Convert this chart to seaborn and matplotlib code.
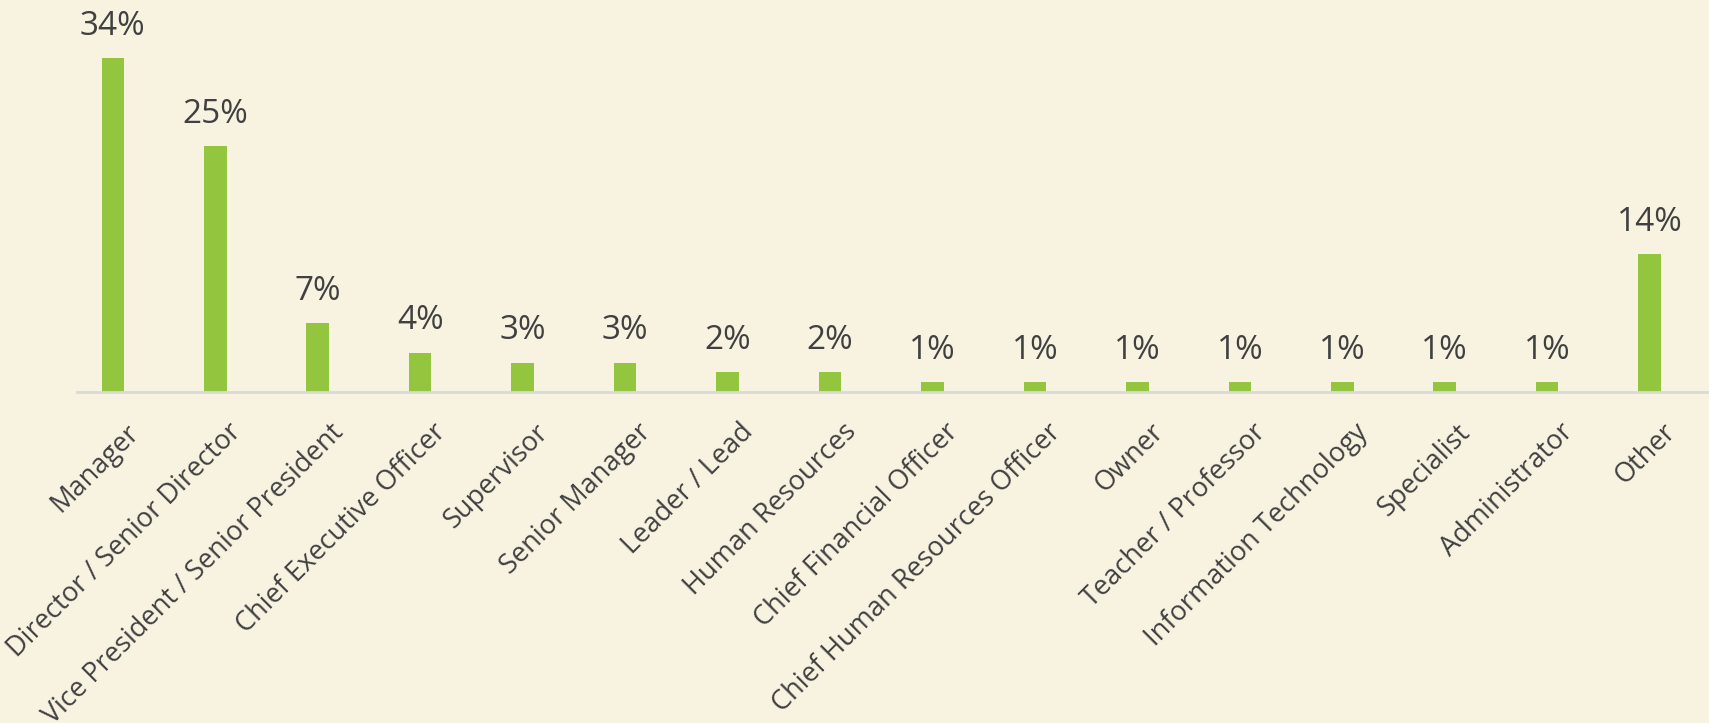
import matplotlib
matplotlib.use("Agg")
import matplotlib.pyplot as plt
import matplotlib.transforms as mtransforms
import seaborn as sns
import pandas as pd

categories = [
    "Manager", "Director / Senior Director", "Vice President / Senior President",
    "Chief Executive Officer", "Supervisor", "Senior Manager", "Leader / Lead",
    "Human Resources", "Chief Financial Officer", "Chief Human Resources Officer",
    "Owner", "Teacher / Professor", "Information Technology", "Specialist",
    "Administrator", "Other",
]
values = [34, 25, 7, 4, 3, 3, 2, 2, 1, 1, 1, 1, 1, 1, 1, 14]
value_labels = [f"{v}%" for v in values]

BG = "#F8F3E1"
BAR = "#94C53E"
TEXT = "#404040"

sns.set_theme(style="white")
plt.rcParams["font.family"] = ["Open Sans", "DejaVu Sans"]

df = pd.DataFrame({"role": categories, "pct": values})

fig = plt.figure(figsize=(17.09, 7.23), dpi=100, facecolor=BG)
ax = fig.add_axes([77 / 1709, (723 - 392) / 723, 1 - 77 / 1709, 392 / 723])
ax.set_facecolor(BG)

sns.barplot(data=df, x="role", y="pct", color=BAR, saturation=1, width=0.22,
            linewidth=0, edgecolor=BAR, ax=ax)

ax.bar_label(ax.containers[0], labels=value_labels, padding=11, fontsize=24, color=TEXT)

ax.set_xlim(-0.35, 15.58)
ax.set_ylim(0, 39.9)
ax.set_xlabel("")
ax.set_ylabel("")
ax.set_yticks([])
for s in ["top", "right", "left"]:
    ax.spines[s].set_visible(False)
ax.spines["bottom"].set_color("#D9D9D9")
ax.spines["bottom"].set_linewidth(2)

ax.tick_params(axis="x", length=0, pad=26)
offset = mtransforms.ScaledTranslation(22 / 100, 0, fig.dpi_scale_trans)
for lab in ax.get_xticklabels():
    lab.set_rotation(45)
    lab.set_ha("right")
    lab.set_va("center")
    lab.set_rotation_mode("anchor")
    lab.set_fontsize(19.5)
    lab.set_color(TEXT)
    lab.set_transform(lab.get_transform() + offset)

fig.savefig("out.png", dpi=100, facecolor=BG)
